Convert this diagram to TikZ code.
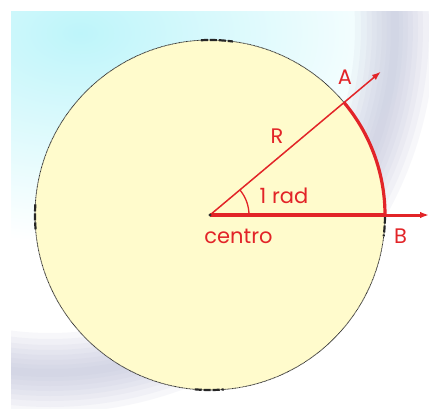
\documentclass[tikz,border=0pt]{standalone}
\usepackage{fontspec}
\setmainfont{Poppins}
\usetikzlibrary{arrows.meta}
\definecolor{rojo}{RGB}{226,36,40}
\definecolor{amarillo}{RGB}{255,251,204}
\definecolor{cian}{RGB}{190,245,250}
\definecolor{gris}{RGB}{192,196,218}
\tikzset{
  lbl/.style={text=rojo, font=\fontsize{21}{24}\selectfont, inner sep=0pt},
  thickred/.style={draw=rojo, line width=3.2pt},
  thinred/.style={draw=rojo, line width=1.5pt},
  arrowtip/.style={-{Latex[length=9pt,width=6.5pt]}},
  bordermark/.style={draw=black!85, line width=2.2pt, dash pattern=on 7pt off 2pt},
}
\begin{document}
\begin{tikzpicture}[x=1pt,y=1pt]
\useasboundingbox (0,0) rectangle (429,408);
% background panel
\begin{scope}
  \clip (11,0) rectangle (429,396);
  \fill[white] (11,0) rectangle (429,396);
  \shade[inner color=cian, outer color=white] (80,375) ellipse [x radius=340, y radius=210];
  \foreach \w in {80,68,56,46,36,26,16,8}{
    \draw[gris, line width=\w pt, opacity=0.12] (50,380) circle [radius=345];
  }
\end{scope}
% circle
\coordinate (O) at (210,193);
\fill[amarillo] (O) circle [radius=175];
\draw[black!80, line width=0.8pt, dash pattern=on 0.9pt off 0.5pt] (O) circle [radius=175];
% black marks on the border
\draw[bordermark] ([shift={(93:175)}]O) arc [start angle=93, end angle=82.5, radius=175];
\draw[bordermark] ([shift={(176.5:175)}]O) arc [start angle=176.5, end angle=185, radius=175];
\draw[bordermark] ([shift={(265:175)}]O) arc [start angle=265, end angle=274.5, radius=175];
\draw[bordermark] ([shift={(-0.5:175)}]O) arc [start angle=-0.5, end angle=-7, radius=175];
% points
\coordinate (A) at ([shift={(40:175)}]O);
\coordinate (B) at ([shift={(0:175)}]O);
\coordinate (Aend) at ([shift={(40:223)}]O);
\coordinate (Bend) at (429,193);
% radii and arrows
\draw[thinred, arrowtip] (O) -- (Aend);
\draw[thickred] (O) -- (B);
\draw[draw=rojo, line width=3pt, arrowtip] (B) -- (Bend);
\draw[thickred] (B) arc [start angle=0, end angle=40, radius=175];
\draw[draw=rojo, line width=1.3pt] ([shift={(0:39)}]O) arc [start angle=0, end angle=40, radius=39];
\fill[black!80] (O) circle [radius=1.6];
% labels
\node[lbl] (lA) at (345,331) {A};
\node[lbl] (lR) at (277,272) {R};
\node[lbl] (lrad) at (284,212) {1 rad};
\node[lbl] (lc) at (238.5,172) {centro};
\node[lbl] (lB) at (400.5,172) {B};
\end{tikzpicture}
\end{document}
